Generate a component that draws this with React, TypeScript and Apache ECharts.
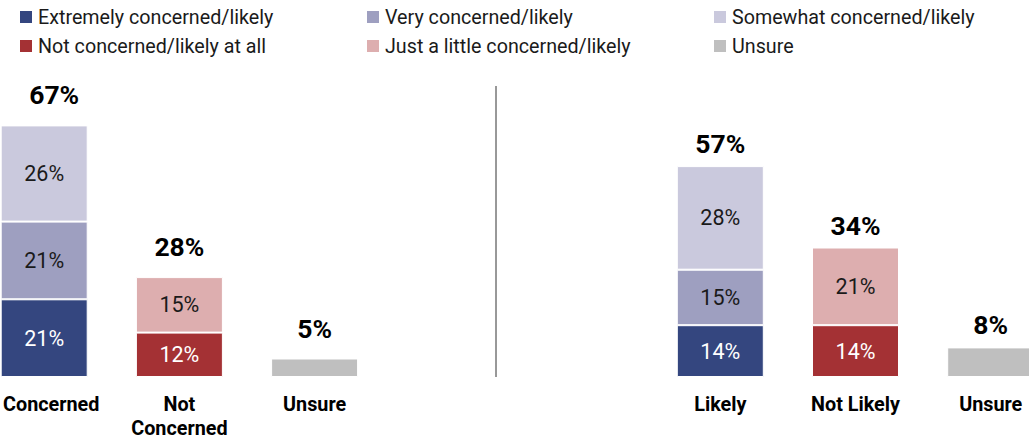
import React, { useEffect, useRef } from "react";
import * as echarts from "echarts";

const leftCategories = ["Concerned", "Not\nConcerned", "Unsure"];
const rightCategories = ["Likely", "Not Likely", "Unsure"];

const seriesNames = [
  "Extremely concerned/likely",
  "Very concerned/likely",
  "Somewhat concerned/likely",
  "Not concerned/likely at all",
  "Just a little concerned/likely",
  "Unsure",
];
const seriesColors = ["#34467f", "#9e9fc0", "#cac9dd", "#a43134", "#ddaeaf", "#bfbfbf"];
const labelColors = ["#ffffff", "#1a1a1a", "#1a1a1a", "#ffffff", "#1a1a1a", "#1a1a1a"];
const showInner = [true, true, true, true, true, false];

// values per series for [left panel categories], [right panel categories]
const leftValues: (number | string)[][] = [
  [21, "-", "-"],
  [21, "-", "-"],
  [26, "-", "-"],
  ["-", 12, "-"],
  ["-", 15, "-"],
  ["-", "-", 5],
];
const rightValues: (number | string)[][] = [
  [14, "-", "-"],
  [15, "-", "-"],
  [28, "-", "-"],
  ["-", 14, "-"],
  ["-", 21, "-"],
  ["-", "-", 8],
];
const leftTotals = [67, 28, 5];
const rightTotals = [57, 34, 8];

const FONT = "Roboto, 'Noto Sans', sans-serif";

function stackSums(values: (number | string)[][]): number[] {
  const n = values[0].length;
  const out: number[] = [];
  for (let i = 0; i < n; i++) {
    let s = 0;
    values.forEach((row) => {
      const v = row[i];
      if (typeof v === "number") s += v;
    });
    out.push(s);
  }
  return out;
}

export default function App() {
  const ref = useRef<HTMLDivElement>(null);
  useEffect(() => {
    if (!ref.current) return;
    const chart = echarts.init(ref.current, undefined, { renderer: "svg" });

    const barSeries = (values: (number | string)[][], idx: number, stack: string) =>
      values.map((data, i) => ({
        name: seriesNames[i],
        type: "bar",
        stack,
        xAxisIndex: idx,
        yAxisIndex: idx,
        barWidth: 87,
        data,
        itemStyle: { color: seriesColors[i], borderColor: "#ffffff", borderWidth: 1 },
        label: {
          show: showInner[i],
          position: "inside",
          formatter: (p: any) => p.value + "%",
          color: labelColors[i],
          fontFamily: FONT,
          fontSize: 21.5,
          fontWeight: "normal",
        },
      }));

    const totalSeries = (
      sums: number[],
      totals: number[],
      idx: number,
      dist: number,
      firstOffset: number
    ) => ({
      name: "total" + idx,
      type: "scatter",
      xAxisIndex: idx,
      yAxisIndex: idx,
      symbolSize: 0,
      itemStyle: { opacity: 1 },
      data: sums.map((v, i) =>
        i === 0 && firstOffset ? { value: v, label: { offset: [firstOffset, 0] } } : v
      ),
      label: {
        show: true,
        position: "top",
        distance: dist,
        formatter: (p: any) => totals[p.dataIndex] + "%",
        color: "#000000",
        opacity: 1,
        fontFamily: FONT,
        fontSize: 26.5,
        fontWeight: "bold",
      },
    });

    const xAxis = (cats: any[], idx: number) => ({
      type: "category",
      gridIndex: idx,
      data: cats,
      axisLine: { show: false },
      axisTick: { show: false },
      axisLabel: {
        color: "#000000",
        fontFamily: FONT,
        fontSize: 19.8,
        fontWeight: "bold",
        lineHeight: 24,
        margin: 15,
        interval: 0,
      },
    });
    const yAxis = (idx: number) => ({
      type: "value",
      gridIndex: idx,
      min: 0,
      max: 100,
      show: false,
    });

    const legendBase = {
      orient: "vertical",
      top: 2,
      itemWidth: 14,
      itemHeight: 14,
      itemGap: 9,
      icon: "rect",
      selectedMode: false,
      textStyle: { fontFamily: FONT, fontSize: 19.7, color: "#1a1a1a", lineHeight: 20 },
    };

    const leftCats = leftCategories.map((c, i) =>
      i === 0 ? { value: c, textStyle: { padding: [0, 0, 0, 14] } } : c
    );

    chart.setOption({
      animation: false,
      backgroundColor: "#ffffff",
      legend: [
        { ...legendBase, left: 13, data: [seriesNames[0], seriesNames[3]] },
        { ...legendBase, left: 360, data: [seriesNames[1], seriesNames[4]] },
        { ...legendBase, left: 707, data: [seriesNames[2], seriesNames[5]] },
      ],
      grid: [
        { left: -23.4, width: 405.6, top: 7, height: 370, outerBoundsMode: "none", containLabel: false },
        { left: 652.7, width: 405.6, top: 7, height: 370, outerBoundsMode: "none", containLabel: false },
      ],
      xAxis: [xAxis(leftCats, 0), xAxis(rightCategories, 1)],
      yAxis: [yAxis(0), yAxis(1)],
      series: [
        ...barSeries(leftValues, 0, "left"),
        ...barSeries(rightValues, 1, "right"),
        totalSeries(stackSums(leftValues), leftTotals, 0, 17, 10),
        totalSeries(stackSums(rightValues), rightTotals, 1, 9, 0),
      ],
      graphic: [
        {
          type: "line",
          shape: { x1: 496, y1: 86, x2: 496, y2: 377 },
          style: { stroke: "#333333", lineWidth: 1 },
        },
      ],
    });
    return () => chart.dispose();
  }, []);
  return (
    <div
      ref={ref}
      style={{ position: "fixed", left: 0, top: 0, width: 1029, height: 438 }}
    />
  );
}
